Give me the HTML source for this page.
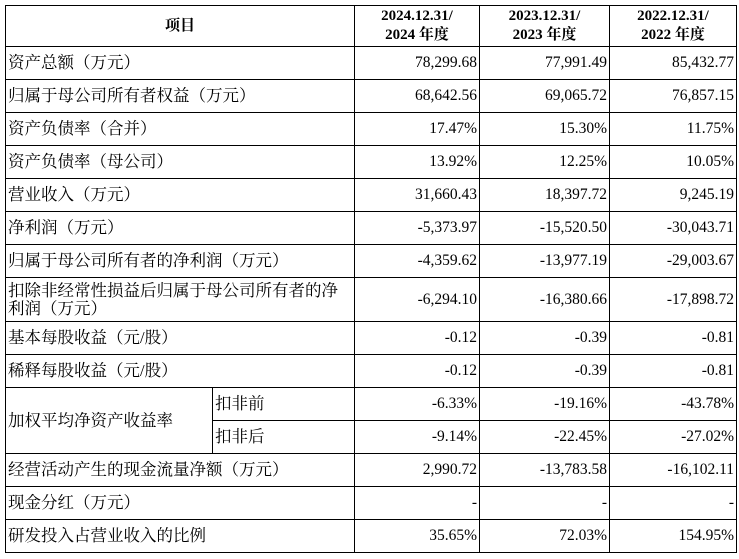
<!DOCTYPE html>
<html><head><meta charset="utf-8"><style>
html,body{margin:0;padding:0;background:#fff;width:739px;height:559px;overflow:hidden}
table{position:absolute;left:5px;top:5px;width:731px;border-collapse:collapse;table-layout:fixed;font-family:"Liberation Serif","Noto Serif CJK SC","Noto Sans CJK SC",serif;font-size:15px;color:#000}
td{border:1px solid #000;padding:0 3px;height:33px;line-height:18px;white-space:nowrap;overflow:hidden;box-sizing:border-box}
td.c{font-size:16.5px;padding-left:2px}
td.n{text-align:right;font-size:15.5px;padding-right:2px}
th{border:1px solid #000;font-weight:bold;height:39px;line-height:19px;font-size:15px;box-sizing:border-box}
.tall td{height:44px}
</style></head><body>
<table>
<colgroup><col style="width:207px"><col style="width:142px"><col style="width:125px"><col style="width:130px"><col style="width:127px"></colgroup>
<tr><th colspan="2">项目</th><th>2024.12.31/<br>2024 年度</th><th>2023.12.31/<br>2023 年度</th><th>2022.12.31/<br>2022 年度</th></tr>
<tr><td class="c" colspan="2">资产总额（万元）</td><td class="n">78,299.68</td><td class="n">77,991.49</td><td class="n">85,432.77</td></tr>
<tr><td class="c" colspan="2">归属于母公司所有者权益（万元）</td><td class="n">68,642.56</td><td class="n">69,065.72</td><td class="n">76,857.15</td></tr>
<tr><td class="c" colspan="2">资产负债率（合并）</td><td class="n">17.47%</td><td class="n">15.30%</td><td class="n">11.75%</td></tr>
<tr><td class="c" colspan="2">资产负债率（母公司）</td><td class="n">13.92%</td><td class="n">12.25%</td><td class="n">10.05%</td></tr>
<tr><td class="c" colspan="2">营业收入（万元）</td><td class="n">31,660.43</td><td class="n">18,397.72</td><td class="n">9,245.19</td></tr>
<tr><td class="c" colspan="2">净利润（万元）</td><td class="n">-5,373.97</td><td class="n">-15,520.50</td><td class="n">-30,043.71</td></tr>
<tr><td class="c" colspan="2">归属于母公司所有者的净利润（万元）</td><td class="n">-4,359.62</td><td class="n">-13,977.19</td><td class="n">-29,003.67</td></tr>
<tr class="tall"><td class="c" colspan="2" style="white-space:normal">扣除非经常性损益后归属于母公司所有者的净利润（万元）</td><td class="n">-6,294.10</td><td class="n">-16,380.66</td><td class="n">-17,898.72</td></tr>
<tr><td class="c" colspan="2">基本每股收益（元/股）</td><td class="n">-0.12</td><td class="n">-0.39</td><td class="n">-0.81</td></tr>
<tr><td class="c" colspan="2">稀释每股收益（元/股）</td><td class="n">-0.12</td><td class="n">-0.39</td><td class="n">-0.81</td></tr>
<tr><td class="c" rowspan="2">加权平均净资产收益率</td><td class="c">扣非前</td><td class="n">-6.33%</td><td class="n">-19.16%</td><td class="n">-43.78%</td></tr>
<tr><td class="c">扣非后</td><td class="n">-9.14%</td><td class="n">-22.45%</td><td class="n">-27.02%</td></tr>
<tr><td class="c" colspan="2">经营活动产生的现金流量净额（万元）</td><td class="n">2,990.72</td><td class="n">-13,783.58</td><td class="n">-16,102.11</td></tr>
<tr><td class="c" colspan="2">现金分红（万元）</td><td class="n">-</td><td class="n">-</td><td class="n">-</td></tr>
<tr><td class="c" colspan="2">研发投入占营业收入的比例</td><td class="n">35.65%</td><td class="n">72.03%</td><td class="n">154.95%</td></tr>
</table>
</body></html>
